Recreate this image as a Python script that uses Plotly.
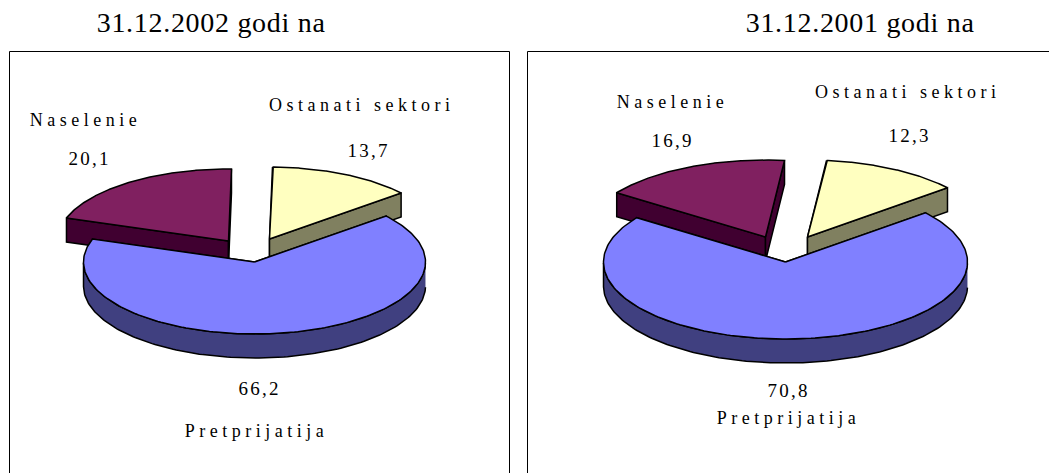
import numpy as np
import plotly.graph_objects as go

categories = ["Ostanati sektori", "Pretprijatija", "Naselenie"]
values_2002 = [13.7, 66.2, 20.1]
values_2001 = [12.3, 70.8, 16.9]
value_text_2002 = ["13,7", "66,2", "20,1"]
value_text_2001 = ["12,3", "70,8", "16,9"]
title_2002 = "31.12.2002 godi na"
title_2001 = "31.12.2001 godi na"

top_colors = ["#FFFFC0", "#8080FF", "#802060"]
side_colors = ["#808060", "#404080", "#400030"]
draw_order = [2, 0, 1]
LINE = dict(color="#000000", width=1.5)

W, H = 1049, 473
fig = go.Figure()


def poly(xs, ys, color):
    fig.add_trace(go.Scatter(x=xs, y=ys, mode="lines", fill="toself", fillcolor=color,
                             line=LINE, hoverinfo="skip", showlegend=False))


def pie3d(values, cx, cy, rx, ry, depth, start, offsets):
    total = sum(values)
    a0 = start
    spans = []
    for v in values:
        a1 = a0 - v / total * 360.0
        spans.append((a0, a1))
        a0 = a1
    for i in draw_order:
        a_s, a_e = spans[i]
        ox, oy = offsets[i]
        px, py = cx + ox, cy + oy
        t = np.radians(np.linspace(a_s, a_e, 200))
        ex = px + rx * np.cos(t)
        ey = py - ry * np.sin(t)
        # outer wall, only where the rim faces the viewer (sin < 0)
        front = np.sin(t) < 0
        if front.any():
            fx, fy = ex[front], ey[front]
            poly(list(fx) + list(fx[::-1]), list(fy) + list((fy + depth)[::-1]), side_colors[i])
        # cut faces
        for (ax, ay) in ((ex[0], ey[0]), (ex[-1], ey[-1])):
            poly([px, ax, ax, px, px], [py, ay, ay + depth, py + depth, py], side_colors[i])
        poly([px] + list(ex) + [px], [py] + list(ey) + [py], top_colors[i])


pie3d(values_2002, 254.5, 262, 171, 72, 24, 89,
      [(15, -23), (0, 0), (-26, -21)])
pie3d(values_2001, 785.5, 262, 182, 77, 24, 84,
      [(22, -25), (0, 0), (-20, -25)])

ann = []
LABEL_SIZE, VALUE_SIZE, TITLE_SIZE = 18, 19, 28


def label(x, y, text, size):
    ann.append(dict(x=x, y=y, text=text, showarrow=False, xref="x", yref="y",
                    font=dict(family="Liberation Serif", size=size, color="#000000"),
                    xanchor="center", yanchor="middle"))


for (xc, yc, t) in [(361, 105, categories[0]), (85, 120, categories[2]), (256, 431, categories[1]),
                    (907, 92, categories[0]), (672, 102, categories[2]), (788, 418, categories[1])]:
    label(xc, yc, t, LABEL_SIZE)
for (xc, yc, t) in [(368, 150, value_text_2002[0]), (89, 158, value_text_2002[2]), (259, 388, value_text_2002[1]),
                    (909, 135, value_text_2001[0]), (672, 140, value_text_2001[2]), (788, 390, value_text_2001[1])]:
    label(xc, yc, t, VALUE_SIZE)
label(211, 22.5, title_2002, TITLE_SIZE)
label(860, 22.5, title_2001, TITLE_SIZE)

frames = [dict(type="rect", xref="x", yref="y", x0=9.5, x1=509.5, y0=51.5, y1=490,
               line=dict(color="#000000", width=1), fillcolor="#FFFFFF", layer="below"),
          dict(type="rect", xref="x", yref="y", x0=527.5, x1=1060, y0=51.5, y1=490,
               line=dict(color="#000000", width=1), fillcolor="#FFFFFF", layer="below")]

fig.update_layout(width=W, height=H, margin=dict(l=0, r=0, t=0, b=0),
                  paper_bgcolor="#FFFFFF", plot_bgcolor="#FFFFFF",
                  xaxis=dict(range=[0, W], visible=False, fixedrange=True),
                  yaxis=dict(range=[H, 0], visible=False, fixedrange=True),
                  annotations=ann, shapes=frames, showlegend=False)

spacing = """
document.body.style.margin = '0';
document.body.style.overflow = 'hidden';
var spacingBySize = {18: '4.5px', 19: '2.2px', 28: '0.7px'};
document.querySelectorAll('.annotation-text').forEach(function(el){
  var s = Math.round(parseFloat(el.style.fontSize));
  if (spacingBySize[s]) { el.style.letterSpacing = spacingBySize[s]; }
});
"""
fig.write_html("out.html", post_script=spacing, config=dict(displayModeBar=False))
